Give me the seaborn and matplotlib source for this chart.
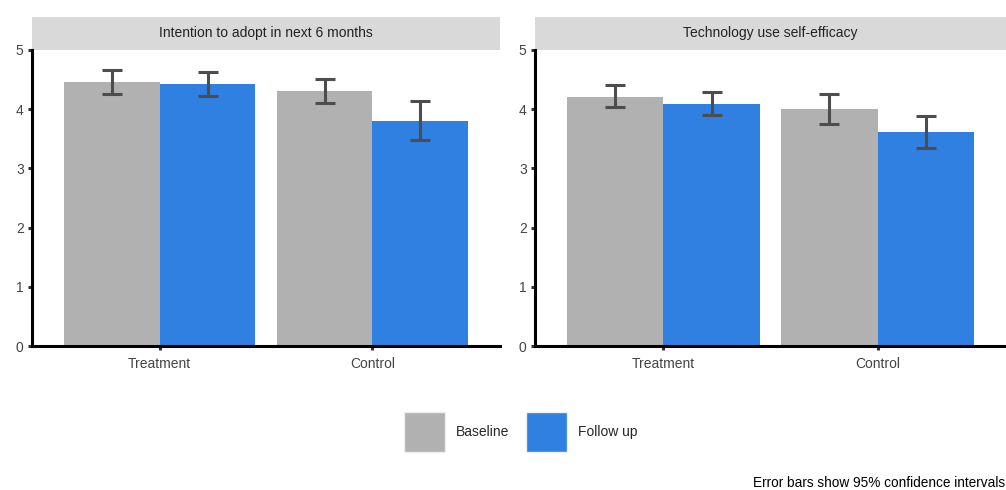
import pandas as pd
import matplotlib
matplotlib.use("Agg")
import matplotlib.pyplot as plt
from matplotlib.patches import Rectangle, Patch
import seaborn as sns

# values
panels = ["Intention to adopt in next 6 months", "Technology use self-efficacy"]
groups = ["Treatment", "Control"]
times = ["Baseline", "Follow up"]
means = {
    panels[0]: {"Baseline": [4.46, 4.31], "Follow up": [4.43, 3.80]},
    panels[1]: {"Baseline": [4.21, 4.00], "Follow up": [4.09, 3.61]},
}
ci_low = {
    panels[0]: {"Baseline": [4.26, 4.10], "Follow up": [4.22, 3.48]},
    panels[1]: {"Baseline": [4.04, 3.75], "Follow up": [3.90, 3.34]},
}
ci_high = {
    panels[0]: {"Baseline": [4.66, 4.51], "Follow up": [4.63, 4.14]},
    panels[1]: {"Baseline": [4.41, 4.26], "Follow up": [4.29, 3.89]},
}
colors = {"Baseline": "#b0b1b0", "Follow up": "#2f80e0"}

rows = []
for p in panels:
    for t in times:
        for i, g in enumerate(groups):
            rows.append({"panel": p, "group": g, "time": t, "mean": means[p][t][i],
                         "lo": ci_low[p][t][i], "hi": ci_high[p][t][i]})
df = pd.DataFrame(rows)

sns.set_style("white")
plt.rcParams["font.family"] = ["Liberation Sans", "DejaVu Sans"]

fig = plt.figure(figsize=(10.06, 4.9), dpi=100)
ax_pos = [[32 / 1006, 1 - 346 / 490, 468 / 1006, 296 / 490],
          [535 / 1006, 1 - 346 / 490, 471 / 1006, 296 / 490]]

for k, p in enumerate(panels):
    ax = fig.add_axes(ax_pos[k])
    sub = df[df["panel"] == p]
    sns.barplot(data=sub, x="group", y="mean", hue="time", order=groups, hue_order=times,
                palette=colors, errorbar=None, width=0.9, saturation=1, linewidth=0,
                ax=ax, legend=False)
    for cont, t in zip(ax.containers, times):
        s = sub[sub["time"] == t].set_index("group").loc[groups]
        xs = [b.get_x() + b.get_width() / 2 for b in cont]
        ax.errorbar(xs, s["mean"], yerr=[s["mean"] - s["lo"], s["hi"] - s["mean"]],
                    fmt="none", ecolor="#4d4d4d", elinewidth=2.2, capsize=7.5, capthick=2.2,
                    zorder=5)
    ax.set_xlim(-0.6, 1.6)
    ax.set_ylim(0, 5)
    ax.set_yticks(range(6))
    ax.set_xlabel("")
    ax.set_ylabel("")
    for s in ["top", "right"]:
        ax.spines[s].set_visible(False)
    for s in ["left", "bottom"]:
        ax.spines[s].set_color("black")
        ax.spines[s].set_linewidth(2.2)
    ax.tick_params(axis="both", left=True, bottom=True, length=3, width=2.2,
                   color="#333333", labelcolor="#444444", labelsize=10, pad=3)
    ax.tick_params(axis="x", pad=5)
    # facet strip
    ax.add_patch(Rectangle((0, 1), 1, 33 / 296, transform=ax.transAxes, clip_on=False,
                           facecolor="#d9d9d9", edgecolor="none"))
    ax.text(0.5, 1 + 16.5 / 296, p, transform=ax.transAxes, ha="center", va="center",
            fontsize=10, color="#222222")

handles = [Patch(facecolor=colors[t], edgecolor="#eeeeee", linewidth=1, label=t) for t in times]
fig.legend(handles=handles, loc="center", bbox_to_anchor=(0.518, 1 - 432 / 490), ncol=2,
           frameon=False, fontsize=10, handlelength=2.95, handleheight=4.05,
           handletextpad=0.8, columnspacing=1.2)

fig.text(0.999, 1 - 483 / 490, "Error bars show 95% confidence intervals", ha="right",
         va="center", fontsize=9.8, color="black")

fig.savefig("out.png", dpi=100)
